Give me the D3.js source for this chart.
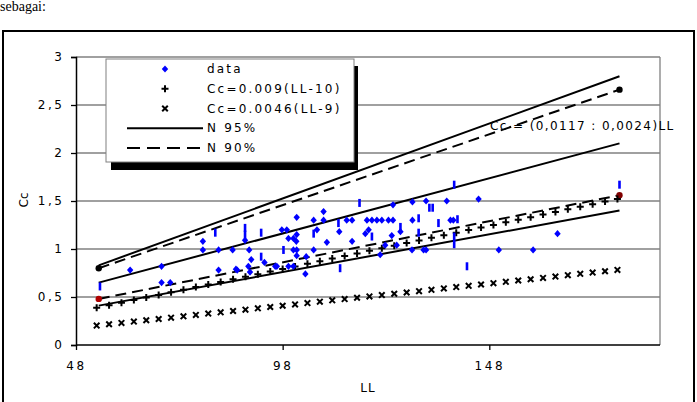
<!DOCTYPE html>
<html>
<head>
<meta charset="utf-8">
<script src="https://cdn.jsdelivr.net/npm/d3@7"></script>
<style>
body { margin: 0; background: #fff; }
text { font-family: "DejaVu Sans", sans-serif; fill: #000; }
</style>
</head>
<body>
<svg id="chart" width="697" height="402"></svg>
<script>
// measured points (blue diamonds)
const dataLL = [61.1, 68.7, 78.7, 78.7, 82.5, 85.9, 82.5, 86.7, 68.7, 70.8, 89.9, 88.9, 97.8, 99.0, 99.4, 100.6,
    101.4, 101.4, 105.5, 107.9, 107.9, 111.7, 108.7, 114.8, 113.5, 114.8, 118.4, 119.6, 120.8, 122.0, 123.6, 124.7,
    118.8, 118.0, 101.3, 100.6, 101.4, 105.5, 87.0, 90.4, 89.7, 93.6, 101.4, 103.5, 96.2, 90.1, 106.3, 96.6, 99.4,
    100.6, 103.7, 145.4, 137.7, 132.7, 129.4, 124.7, 129.4, 138.6, 139.3, 126.5, 124.4, 122.8, 125.6, 129.3, 132.1,
    132.7, 150.3, 121.6, 164.5, 158.6];
const dataCc = [0.78, 0.82, 1.08, 0.99, 0.99, 0.99, 0.78, 0.79, 0.65, 0.65, 0.99, 1.09, 1.20, 1.20, 1.11, 1.11,
    1.15, 1.33, 1.30, 1.39, 1.30, 1.18, 1.07, 1.08, 1.30, 1.30, 1.30, 1.30, 1.30, 1.30, 1.30, 1.30,
    1.20, 1.16, 1.08, 0.99, 0.99, 0.99, 0.78, 0.89, 0.82, 0.86, 0.93, 0.74, 0.82, 0.76, 1.20, 0.82, 0.82,
    0.82, 0.92, 1.52, 1.50, 1.50, 1.49, 1.46, 1.30, 1.30, 1.30, 1.18, 1.14, 1.04, 1.04, 0.99, 0.99,
    0.99, 0.99, 0.94, 1.16, 0.99];

// measured points drawn as short blue bars
const barLL = [53.8, 81.7, 88.9, 88.9, 92.8, 92.8, 98.2, 105.5, 111.5, 111.9, 116.6, 119.6, 126.5, 130.9, 130.9,
    133.5, 134.3, 135.7, 139.5, 139.5, 139.5, 140.3, 142.6, 179.5];
const barCc = [0.61, 1.17, 1.22, 1.15, 1.17, 0.92, 0.99, 1.16, 1.27, 0.80, 1.48, 1.13, 1.23, 1.32, 1.17,
    1.43, 1.43, 1.27, 1.67, 1.13, 1.05, 1.31, 0.82, 1.67];

// correlation series
const corrLL = [53, 56, 59, 62, 65, 68, 71, 74, 77, 80, 83, 86, 89, 92, 95, 98, 101, 104, 107, 110, 113, 116,
    119, 122, 125, 128, 131, 134, 137, 140, 143, 146, 149, 152, 155, 158, 161, 164, 167, 170, 173, 176, 179];
const cc009 = [0.387, 0.414, 0.441, 0.468, 0.495, 0.522, 0.549, 0.576, 0.603, 0.630, 0.657, 0.684, 0.711, 0.738,
    0.765, 0.792, 0.819, 0.846, 0.873, 0.900, 0.927, 0.954, 0.981, 1.008, 1.035, 1.062, 1.089, 1.116, 1.143,
    1.170, 1.197, 1.224, 1.251, 1.278, 1.305, 1.332, 1.359, 1.386, 1.413, 1.440, 1.467, 1.494, 1.521];
const cc0046 = [0.202, 0.216, 0.230, 0.244, 0.258, 0.271, 0.285, 0.299, 0.313, 0.327, 0.340, 0.354, 0.368, 0.382,
    0.396, 0.409, 0.423, 0.437, 0.451, 0.465, 0.478, 0.492, 0.506, 0.520, 0.534, 0.547, 0.561, 0.575, 0.589,
    0.603, 0.616, 0.630, 0.644, 0.658, 0.672, 0.685, 0.699, 0.713, 0.727, 0.741, 0.754, 0.768, 0.782];

// band lines (end points)
const bandLL = [53.5, 179.5];
const n95Upper = [0.83, 2.80];
const n95Mid = [0.65, 2.10];
const n95Lower = [0.41, 1.40];
const n90Upper = [0.80, 2.66];
const n90Lower = [0.48, 1.56];

const yTicks = [0, 0.5, 1, 1.5, 2, 2.5, 3];
const yTickLabels = ["0", "0,5", "1", "1,5", "2", "2,5", "3"];
const xTicks = [48, 98, 148];

const legendLabels = ["data", "Cc=0.009(LL-10)", "Cc=0.0046(LL-9)", "N 95%", "N 90%"];
const noteText = "Cc = (0,0117 : 0,0024)LL";

const svg = d3.select("#chart");

// page text above the chart frame
svg.append("text")
    .attr("x", 0).attr("y", 10.5)
    .style("font-family", "'Liberation Serif', serif")
    .style("font-size", "14px")
    .text("sebagai:");

// outer chart frame
svg.append("rect")
    .attr("x", 3).attr("y", 31)
    .attr("width", 691).attr("height", 376)
    .attr("fill", "none")
    .attr("stroke", "black")
    .attr("stroke-width", 2);

const plot = { left: 76, right: 660, top: 57, bottom: 345 };

const x = d3.scaleLinear().domain([48, 189.3]).range([plot.left, plot.right]);
const y = d3.scaleLinear().domain([0, 3]).range([plot.bottom, plot.top]);

// gridlines
svg.append("g")
    .selectAll("line")
    .data(yTicks.slice(1))
    .join("line")
    .attr("x1", plot.left).attr("x2", plot.right)
    .attr("y1", d => y(d)).attr("y2", d => y(d))
    .attr("stroke", "#808080")
    .attr("stroke-width", 1.3);

svg.append("line")
    .attr("x1", plot.right).attr("x2", plot.right)
    .attr("y1", plot.top).attr("y2", plot.bottom)
    .attr("stroke", "#808080")
    .attr("stroke-width", 1.3);

// axes
const yAxis = svg.append("g")
    .attr("transform", `translate(${plot.left},0)`)
    .call(d3.axisLeft(y).tickValues(yTicks).tickSize(5).tickPadding(9)
        .tickFormat((d, i) => yTickLabels[i]));
const xAxis = svg.append("g")
    .attr("transform", `translate(0,${plot.bottom})`)
    .call(d3.axisBottom(x).tickValues(xTicks).tickSize(5).tickPadding(11).tickFormat(d3.format("d")));

[yAxis, xAxis].forEach(g => {
    g.select(".domain").attr("stroke", "black").attr("stroke-width", 1.5);
    g.selectAll(".tick line").attr("stroke", "black").attr("stroke-width", 1.3);
    g.selectAll(".tick text")
        .style("font-family", "'DejaVu Sans', sans-serif")
        .style("font-size", "12px")
        .style("letter-spacing", "2.6px")
        .attr("fill", "black");
});
yAxis.selectAll(".tick text").attr("dx", "2.6px");
xAxis.select(".domain").attr("d", `M${plot.left},0H${plot.right}`);

// axis titles
svg.append("text")
    .attr("transform", "translate(28,200) rotate(-90)")
    .attr("text-anchor", "middle")
    .style("font-size", "12px")
    .text("Cc");
svg.append("text")
    .attr("x", 368).attr("y", 392)
    .attr("text-anchor", "middle")
    .style("font-size", "12px")
    .style("letter-spacing", "1px")
    .text("LL");

// band lines
const bandLine = d3.line().x((d, i) => x(bandLL[i])).y(d => y(d));
const bands = [
    { values: n95Upper, dash: null },
    { values: n95Mid, dash: null },
    { values: n95Lower, dash: null },
    { values: n90Upper, dash: "11,6" },
    { values: n90Lower, dash: "11,6" }
];
svg.append("g")
    .selectAll("path")
    .data(bands)
    .join("path")
    .attr("d", d => bandLine(d.values))
    .attr("fill", "none")
    .attr("stroke", "black")
    .attr("stroke-width", 2)
    .attr("stroke-dasharray", d => d.dash);

// end markers of the N 90% lines
svg.append("g")
    .selectAll("circle")
    .data([
        { ll: bandLL[0], cc: n90Upper[0], c: "black" },
        { ll: bandLL[1], cc: n90Upper[1], c: "black" },
        { ll: bandLL[0], cc: n90Lower[0], c: "#b00000" },
        { ll: bandLL[1], cc: n90Lower[1], c: "#800000" }
    ])
    .join("circle")
    .attr("cx", d => x(d.ll)).attr("cy", d => y(d.cc))
    .attr("r", 3.2)
    .attr("fill", d => d.c);

const plusPath = "M-3.5,0H3.5M0,-3.5V3.5";
const crossPath = "M-2.8,-2.8L2.8,2.8M-2.8,2.8L2.8,-2.8";
const diamondPath = "M0,-3.6L3.2,0L0,3.6L-3.2,0Z";

// Cc = 0.0046(LL-9)
svg.append("g")
    .selectAll("path")
    .data(corrLL)
    .join("path")
    .attr("transform", (d, i) => `translate(${x(d)},${y(cc0046[i])})`)
    .attr("d", crossPath)
    .attr("stroke", "black")
    .attr("stroke-width", 2);

// Cc = 0.009(LL-10)
svg.append("g")
    .selectAll("path")
    .data(corrLL)
    .join("path")
    .attr("transform", (d, i) => `translate(${x(d)},${y(cc009[i])})`)
    .attr("d", plusPath)
    .attr("stroke", "black")
    .attr("stroke-width", 2);

// data
svg.append("g")
    .selectAll("rect")
    .data(barLL)
    .join("rect")
    .attr("x", d => x(d) - 1.3)
    .attr("y", (d, i) => y(barCc[i]) - 4)
    .attr("width", 2.6)
    .attr("height", 8)
    .attr("fill", "#0000ff");
svg.append("g")
    .selectAll("path")
    .data(dataLL)
    .join("path")
    .attr("transform", (d, i) => `translate(${x(d)},${y(dataCc[i])})`)
    .attr("d", diamondPath)
    .attr("fill", "#0000ff");

// annotation
svg.append("text")
    .attr("x", 490).attr("y", 130)
    .style("font-size", "12px")
    .style("letter-spacing", "1.4px")
    .text(noteText);

// legend
const legend = svg.append("g");
legend.append("rect")
    .attr("x", 111).attr("y", 66)
    .attr("width", 247).attr("height", 104)
    .attr("fill", "black");
legend.append("rect")
    .attr("x", 106).attr("y", 59)
    .attr("width", 248).attr("height", 103)
    .attr("fill", "white")
    .attr("stroke", "#808080")
    .attr("stroke-width", 1);

const rowY = d3.scaleLinear().domain([0, 4]).range([69, 148]);
legendLabels.forEach((label, i) => {
    const cy = rowY(i);
    if (i === 0) {
        legend.append("path")
            .attr("transform", `translate(165,${cy})`)
            .attr("d", diamondPath)
            .attr("fill", "#0000ff");
    } else if (i === 1) {
        legend.append("path")
            .attr("transform", `translate(165,${cy})`)
            .attr("d", plusPath)
            .attr("stroke", "black").attr("stroke-width", 2);
    } else if (i === 2) {
        legend.append("path")
            .attr("transform", `translate(165,${cy})`)
            .attr("d", crossPath)
            .attr("stroke", "black").attr("stroke-width", 2);
    } else {
        legend.append("line")
            .attr("x1", 127).attr("x2", 203)
            .attr("y1", cy).attr("y2", cy)
            .attr("stroke", "black").attr("stroke-width", 2)
            .attr("stroke-dasharray", i === 4 ? "13,7" : null);
    }
    legend.append("text")
        .attr("x", 207).attr("y", cy + 4)
        .style("font-size", "12px")
        .style("letter-spacing", "2.2px")
        .text(label);
});
</script>
</body>
</html>
